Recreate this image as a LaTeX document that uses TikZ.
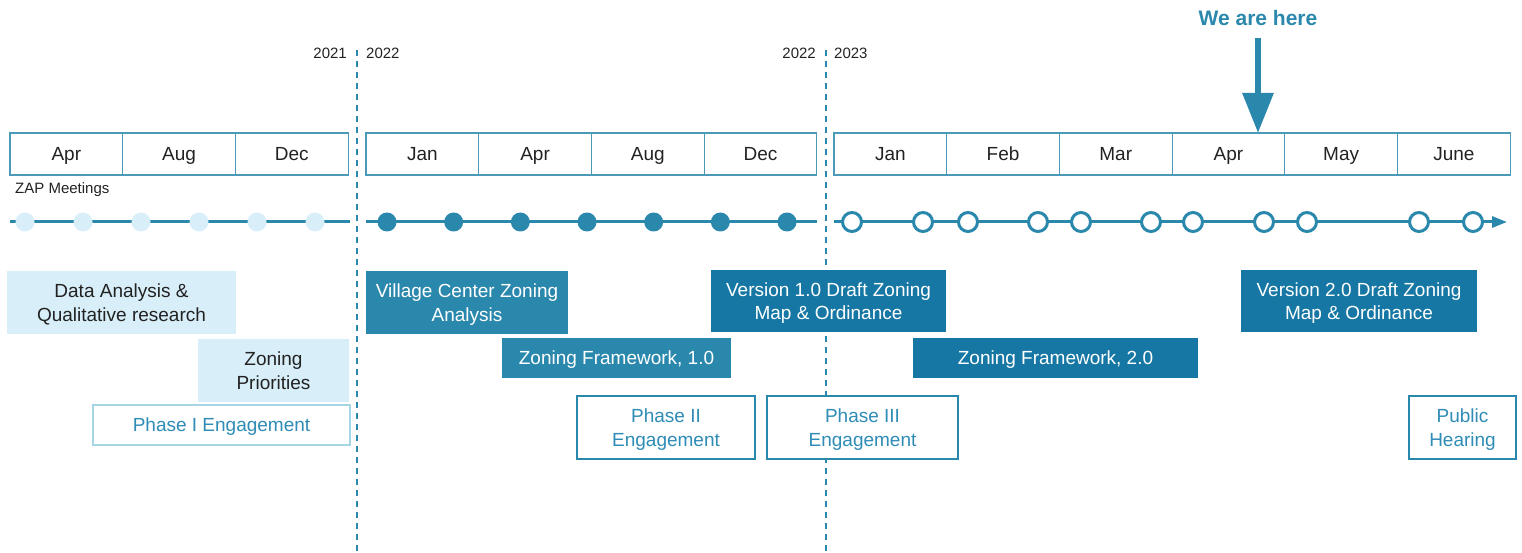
\documentclass[tikz,border=0pt]{standalone}
\usepackage{fontspec}
\setmainfont{Liberation Sans}
\usepackage{tikz}
\usetikzlibrary{arrows.meta,calc}
\definecolor{zteal}{HTML}{2B88AD}
\definecolor{zdark}{HTML}{1677A4}
\definecolor{zlight}{HTML}{D8EFF9}
\definecolor{zpale}{HTML}{A6D6E6}
\definecolor{ztext}{HTML}{2E8CB6}
\definecolor{zink}{HTML}{222222}
\tikzset{
  monthcell/.style={draw=zteal!85,line width=1.1pt,minimum width=112.7pt,minimum height=42pt,inner sep=0pt,text height=14pt,text depth=0pt,font=\fontsize{19}{23}\selectfont,text=zink},
  actbox/.style={inner sep=0pt,align=center,text depth=0pt,font=\fontsize{19}{23.5}\selectfont},
  lightbox/.style={actbox,fill=zlight,text=zink},
  tealbox/.style={actbox,fill=zteal,text=white},
  darkbox/.style={actbox,fill=zdark,text=white},
  outlinebox/.style={actbox,fill=white,draw=zteal,line width=1.6pt,text=ztext},
  yearline/.style={zteal,line width=1.5pt,dash pattern=on 6pt off 5pt},
  yeartext/.style={font=\fontsize{15}{18}\selectfont,text=zink,inner sep=0pt},
  track/.style={zteal,line width=3pt},
  pastdot/.style={circle,fill=zlight,minimum size=19pt,inner sep=0pt},
  donedot/.style={circle,fill=zteal,minimum size=19pt,inner sep=0pt},
  nextdot/.style={circle,fill=white,draw=zteal,line width=3pt,minimum size=19pt,inner sep=0pt}
}
\begin{document}
\begin{tikzpicture}[x=1pt,y=-1pt]
\useasboundingbox (0,0) rectangle (1522,553);
% year dividers
\draw[yearline](357,50)--(357,553);
\draw[yearline](826,50)--(826,553);
\node[yeartext,anchor=east] (y2021) at (347,53){2021};
\node[yeartext,anchor=west] (y2022a) at (366,53){2022};
\node[yeartext,anchor=east] (y2022b) at (816,53){2022};
\node[yeartext,anchor=west] (y2023) at (834,53){2023};
%month cells
\foreach \m [count=\i from 0] in {Apr,Aug,Dec}
  \node[monthcell] (ma\i) at (66.35+112.7*\i,154){\m};
\foreach \m [count=\i from 0] in {Jan,Apr,Aug,Dec}
  \node[monthcell] (mb\i) at (422.35+112.7*\i,154){\m};
\foreach \m [count=\i from 0] in {Jan,Feb,Mar,Apr,May,June}
  \node[monthcell] (mc\i) at (890.35+112.7*\i,154){\m};
\node[yeartext,anchor=base west] (zap) at (15,194){ZAP Meetings};
%meeting tracks
\coordinate (ta) at (10,222); \coordinate (tb) at (350,222);
\coordinate (tc) at (366,222); \coordinate (td) at (817,222);
\coordinate (te) at (834,222); \coordinate (tf) at (1507,222);
\draw[track](ta)--(tb);
\draw[track](tc)--(td);
\draw[track,-{Triangle[length=15pt,width=11pt]}](te)--(tf);
\foreach \x [count=\i] in {25,83,141,199,257,315}
  \node[pastdot] (pa\i) at (\x,222){};
\foreach \k in {0,...,6}
  \node[donedot] (pb\k) at (387+66.67*\k,222){};
\foreach \x [count=\i] in {852,923,968,1038,1081,1151,1193,1264,1307,1419,1473}
  \node[nextdot] (pc\i) at (\x,222){};
%we are here
\node[font=\bfseries\fontsize{21}{25}\selectfont,text=zteal,inner sep=0pt] (here) at (1258,18){We are here};
\coordinate (now) at (1258,133);
\draw[zteal,line width=6pt,shorten <=12pt,-{Triangle[length=40pt,width=30pt]}](here.south)--(now);
%activities
\node[lightbox,minimum width=229pt,minimum height=63pt] (data) at (121.5,302.5){Data Analysis \&\\Qualitative research};
\node[lightbox,minimum width=151pt,minimum height=63pt] (prio) at (273.5,370.5){Zoning\\Priorities};
\node[outlinebox,draw=zpale,minimum width=257pt,minimum height=40pt] (ph1) at (221.5,425){Phase I Engagement};
\node[tealbox,minimum width=202pt,minimum height=63pt] (vca) at (467,302.5){Village Center Zoning\\Analysis};
\node[tealbox,minimum width=229pt,minimum height=40pt] (zf1) at (616.5,358){Zoning Framework, 1.0};
\node[outlinebox,minimum width=178pt,minimum height=63pt] (ph2) at (666,427.5){Phase II\\Engagement};
\node[darkbox,minimum width=235pt,minimum height=62pt] (v1) at (828.5,301){Version 1.0 Draft Zoning\\Map \& Ordinance};
\node[darkbox,minimum width=285pt,minimum height=40pt] (zf2) at (1055.5,358){Zoning Framework, 2.0};
\node[outlinebox,minimum width=191pt,minimum height=63pt] (ph3) at (862.5,427.5){Phase III\\Engagement};
\node[darkbox,minimum width=236pt,minimum height=62pt] (v2) at (1359,301){Version 2.0 Draft Zoning\\Map \& Ordinance};
\node[outlinebox,minimum width=107pt,minimum height=63pt] (hear) at (1462.5,427.5){Public\\Hearing};
\end{tikzpicture}
\end{document}
